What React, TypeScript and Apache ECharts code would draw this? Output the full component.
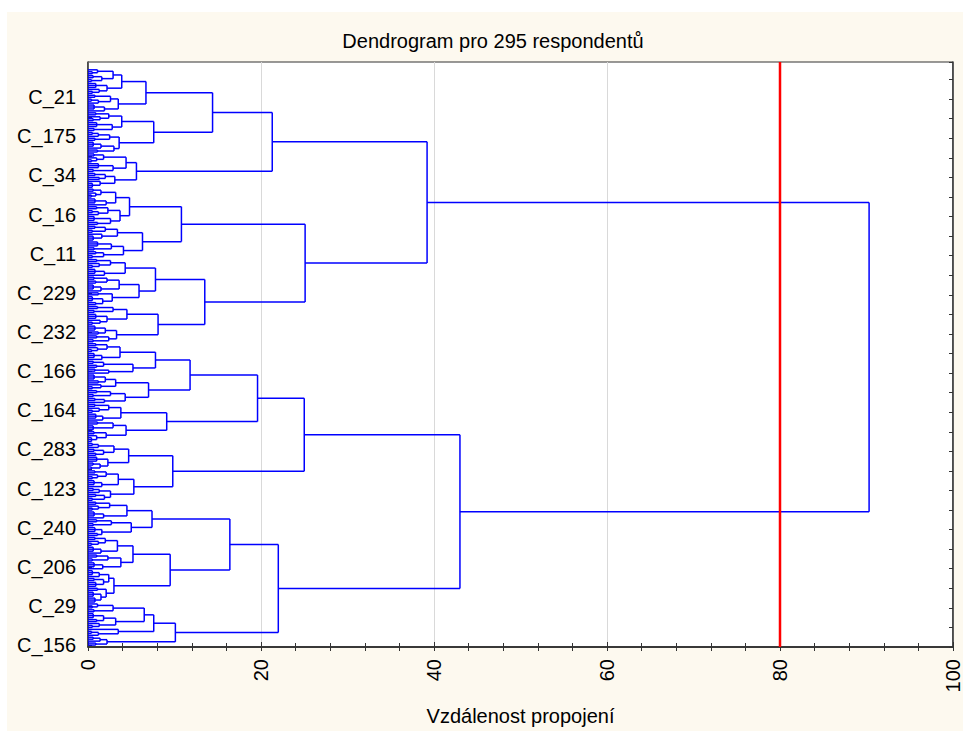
import React, { useEffect, useRef } from 'react';
import * as echarts from 'echarts';

// Dendrogram data: binary node = [height, childA, childB]; clump = [height, leafCount]; single leaf = 1
const upperA1 = [6.7,
  [3.9,
    [2.9, [1.1, 1, [0.5, 2]], [1.6, [0.6, 2], [0.4, 2]]],
    [2.2, [0.9, 3], [1.3, 1, [0.5, 2]]]],
  [3.5,
    [2.6, [0.8, 2], [1.2, [0.4, 2], 1]],
    [1.9, [0.7, 3], 1]]];
const upperA2 = [7.6,
  [3.9, [2.4, [0.9, 2], [1.4, 1, [0.6, 2]]], [2.8, [1.0, 3], [0.7, 2]]],
  [3.6, [2.5, [1.2, [0.5, 2], 1], [0.8, 2]], [3.0, [1.5, [0.6, 3], 1], [1.1, 2]]]];
const upperB = [5.6,
  [4.4, [1.8, [0.7, 2], [1.0, 1, [0.4, 2]]], [2.9, [1.2, 3], [0.6, 2]]],
  [3.1, [2.0, [0.8, 2], [1.3, 2]], [1.4, 1, [0.5, 3]]]];
const t2a1 = [4.8,
  [3.2, [1.5, [0.6, 2], [0.9, 1, [0.4, 2]]], [2.1, [0.8, 3], 1]],
  [3.7, [2.3, [1.0, 2], [1.2, [0.5, 2], 1]], [2.6, [0.7, 3], [1.1, 2]]]];
const t2a2 = [6.3,
  [3.4, [2.0, [0.8, 2], [0.5, 2]], [1.6, 1, [0.6, 3]]],
  [4.1, [2.7, [1.1, 3], [0.7, 2]], [1.8, [0.9, 2], [0.5, 2]]]];
const t2b1 = [7.8,
  [4.3, [2.6, [1.0, 2], [1.3, 1, [0.5, 2]]], [1.9, [0.8, 3], 1]],
  [5.9, [3.6, [2.2, [0.7, 2], [0.9, 2]], [1.5, [0.6, 3], 1]], [2.8, [1.2, 2], [1.7, [0.5, 3], [0.9, 2]]]]];
const t2b2 = [8.1,
  [4.5, [2.9, [1.1, 2], [0.7, 2]], [2.2, [0.9, 3], [1.4, 1, [0.5, 2]]]],
  [3.3, [2.0, [0.8, 3], [1.2, 2]], [2.4, [1.0, 2], [0.6, 2]]]];
const b366 = [7.8,
  [3.7, [2.2, [0.9, 2], [1.1, 1, [0.4, 2]]], [1.6, [0.7, 3], 1]],
  [5.2, [1.8, [0.6, 2], [1.0, 2]], [2.4, [0.8, 2], 1]]];
const b394 = [7.0,
  [3.2, [2.0, [0.7, 3], [1.2, 2]], [1.5, 1, [0.5, 2]]],
  [4.3, [2.6, [1.0, 2], [0.6, 2]], [1.9, [0.8, 2], 1]]];
const b1a2 = [9.1,
  [3.8, [2.4, [0.8, 2], [1.3, 1, [0.5, 2]]], [1.7, [0.9, 3], 1]],
  [4.4, [2.9, [1.1, 2], [0.6, 3]], [2.1, [0.7, 2], [1.0, 1, [0.4, 3]]]]];
const b460 = [4.7,
  [3.0, [1.2, [0.5, 2], 1], [1.8, [0.7, 2], [0.9, 2]]],
  [2.3, [1.0, 3], [1.4, [0.6, 2], [0.4, 2]]]];
const b490 = [5.3,
  [3.5, [2.1, [0.8, 2], [1.1, 1, [0.5, 2]]], [1.6, [0.7, 3], 1]],
  [2.6, [1.3, [0.6, 2], 1], [1.9, [0.9, 2], [0.5, 2]]]];
const b523 = [7.4,
  [4.5, [2.5, [0.9, 2], [1.2, 1, [0.5, 2]]], [1.8, [0.7, 3], 1]],
  [5.0, [2.7, [1.0, 2], [0.6, 2]], [1.6, [0.8, 3], [1.1, 2]]]];
const b557 = [5.2,
  [3.4, [2.0, [0.8, 2], [1.2, 1, [0.4, 2]]], [1.5, [0.6, 3], 1]],
  [3.8, [2.3, [1.0, 2], [0.5, 2]], [1.7, [0.7, 3], 1]]];
const b588 = [3.0,
  [2.4, [1.3, [0.5, 3], 1], [1.8, [0.7, 2], [0.9, 3]]],
  [2.1, [1.1, 2], [1.5, [0.6, 3], [0.8, 3]]]];
const b629 = [7.6,
  [6.5,
    [2.9, [1.1, 1, [0.5, 2]], [0.7, 2]],
    [3.2, [1.8, [0.6, 3], [1.0, 2]], [1.3, 1, [0.5, 2]]]],
  [3.5, 1, [1.2, [0.4, 2], 1]]];
const b648 = [2.2, [1.4, [0.6, 2], 1], [0.9, 2]];

const upperCluster = [39.2,
  [21.3, [14.4, upperA1, upperA2], upperB],
  [25.1, [10.8, t2a1, t2a2], [13.5, t2b1, t2b2]]];
const lowerCluster = [43.0,
  [25.0, [19.6, [11.8, b366, b394], b1a2], [9.8, b460, b490]],
  [22.0, [16.4, b523, [9.5, b557, b588]], [10.1, b629, b648]]];
const rootHeight = 90.3;

const LEAF_COUNT = 295;
const Y_MAX = 299;
// leaf labels, bottom to top, every 20th leaf starting with leaf 1
const leafLabels = ['C_156', 'C_29', 'C_206', 'C_240', 'C_123', 'C_283', 'C_164', 'C_166',
  'C_232', 'C_229', 'C_11', 'C_16', 'C_34', 'C_175', 'C_21'];
const labelStep = 20;
const tickStep = 10;
const cutDistance = 80;
const xMin = 0, xMax = 100, xStep = 20;

function buildSegments(root: any): number[][] {
  const segs: number[][] = [];
  let next = LEAF_COUNT;
  const walk = (node: any): { h: number; y: number } => {
    if (typeof node === 'number') {
      const y = next--;
      return { h: 0, y };
    }
    if (node.length === 2) {
      const [h, n] = node;
      const ys: number[] = [];
      for (let i = 0; i < n; i++) {
        const y = next--;
        ys.push(y);
        segs.push([0, y, h, y]);
      }
      segs.push([h, ys[0], h, ys[n - 1]]);
      return { h, y: (ys[0] + ys[n - 1]) / 2 };
    }
    const [h, a, b] = node;
    const ra = walk(a);
    const rb = walk(b);
    segs.push([ra.h, ra.y, h, ra.y]);
    segs.push([rb.h, rb.y, h, rb.y]);
    segs.push([h, ra.y, h, rb.y]);
    return { h, y: (ra.y + rb.y) / 2 };
  };
  walk(root);
  return segs;
}

const FONT = "'Liberation Sans', Arial, sans-serif";

export default function App() {
  const ref = useRef<HTMLDivElement>(null);
  useEffect(() => {
    if (!ref.current) return;
    const chart = echarts.init(ref.current, undefined, { renderer: 'svg' });
    const segs = buildSegments([rootHeight, upperCluster, lowerCluster]);
    const yCats: string[] = [];
    for (let i = 0; i <= Y_MAX; i++) {
      const k = (i - 1) / labelStep;
      yCats.push(Number.isInteger(k) && k >= 0 && k < leafLabels.length ? leafLabels[k] : String(i));
    }
    const showLabel = (idx: number) => {
      const k = (idx - 1) / labelStep;
      return Number.isInteger(k) && k >= 0 && k < leafLabels.length;
    };
    const showTick = (idx: number) => (idx - 1) % tickStep === 0 && idx >= 1 && idx <= LEAF_COUNT;
    chart.setOption({
      animation: false,
      backgroundColor: 'transparent',
      textStyle: { fontFamily: FONT },
      title: {
        text: 'Dendrogram pro 295 respondentů',
        left: 488, top: 26, textAlign: 'center',
        textStyle: { fontFamily: FONT, fontSize: 20, fontWeight: 'normal', color: '#000' },
      },
      grid: {
        left: 88, top: 62, right: 7, bottom: 78, show: true,
        backgroundColor: '#ffffff', borderColor: '#333', borderWidth: 1,
      },
      xAxis: [
        {
          type: 'value', min: xMin, max: xMax, interval: xStep, position: 'bottom',
          name: 'Vzdálenost propojení', nameLocation: 'middle', nameGap: 59,
          nameTextStyle: { fontFamily: FONT, fontSize: 20, color: '#000' },
          axisLine: { show: true, lineStyle: { color: '#333', width: 1.5 } },
          axisTick: { show: true, inside: true, length: 5, lineStyle: { color: '#333' } },
          minorTick: { show: true, splitNumber: 5, length: 4, lineStyle: { color: '#333' } },
          axisLabel: { rotate: 90, fontFamily: FONT, fontSize: 20, color: '#000', margin: 12 },
          splitLine: { show: true, lineStyle: { color: '#d9d9d9', width: 1 } },
        },
        {
          type: 'value', min: xMin, max: xMax, interval: 4, position: 'top',
          axisLine: { show: true, lineStyle: { color: '#333', width: 1.5 } },
          axisTick: { show: true, inside: true, length: 4, lineStyle: { color: '#333' } },
          axisLabel: { show: false },
          splitLine: { show: false },
        },
      ],
      yAxis: [
        { type: 'value', min: 0, max: Y_MAX, show: false },
        {
          type: 'category', data: yCats, boundaryGap: false, position: 'left',
          axisLine: { show: true, lineStyle: { color: '#333', width: 1.5 } },
          axisTick: { show: true, inside: true, length: 4, interval: (i: number) => showTick(i), lineStyle: { color: '#333' } },
          axisLabel: { interval: (i: number) => showLabel(i), fontFamily: FONT, fontSize: 20, color: '#000', margin: 12 },
          splitLine: { show: false },
        },
        {
          type: 'value', min: 0, max: Y_MAX, interval: tickStep, position: 'right',
          axisLine: { show: true, lineStyle: { color: '#333', width: 1.5 } },
          axisTick: { show: true, inside: true, length: 4, lineStyle: { color: '#333' } },
          axisLabel: { show: false },
          splitLine: { show: false },
        },
      ],
      series: [
        {
          type: 'custom', xAxisIndex: 0, yAxisIndex: 0, data: segs,
          encode: { x: [0, 2], y: [1, 3] },
          renderItem: (params: any, api: any) => {
            const p1 = api.coord([api.value(0), api.value(1)]);
            const p2 = api.coord([api.value(2), api.value(3)]);
            return {
              type: 'line',
              shape: { x1: p1[0], y1: p1[1], x2: p2[0], y2: p2[1] },
              style: { stroke: '#0000ff', lineWidth: 1.5 },
            };
          },
          z: 2,
        },
        {
          type: 'line', xAxisIndex: 0, yAxisIndex: 0,
          data: [[cutDistance, 0], [cutDistance, Y_MAX]],
          symbol: 'none', lineStyle: { color: '#ff0000', width: 2.5 }, z: 3,
        },
      ],
    });
    return () => chart.dispose();
  }, []);
  return (
    <div style={{ position: 'fixed', left: 0, top: 0, width: 963, height: 731, background: '#ffffff' }}>
      <div style={{ position: 'absolute', left: 7, top: 12, width: 956, height: 719, background: '#fdf9ef' }} />
      <div ref={ref} style={{ position: 'absolute', left: 0, top: 0, width: 963, height: 731 }} />
    </div>
  );
}
